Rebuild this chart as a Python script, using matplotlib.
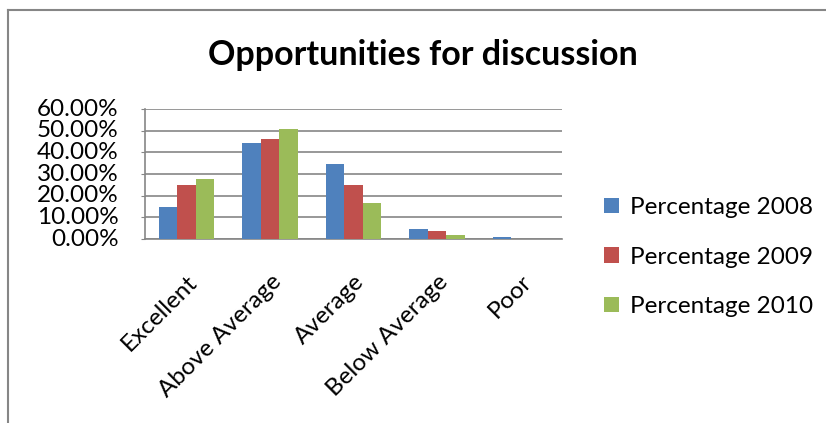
import numpy as np
import matplotlib
matplotlib.use('Agg')
import matplotlib.pyplot as plt
from matplotlib.lines import Line2D
from matplotlib.ticker import FuncFormatter

plt.rcParams['font.family'] = ['Lato', 'DejaVu Sans']

categories = ['Excellent', 'Above Average', 'Average', 'Below Average', 'Poor']
series_names = ['Percentage 2008', 'Percentage 2009', 'Percentage 2010']
pct_2008 = [14.9, 44.2, 34.7, 4.75, 0.9]
pct_2009 = [24.7, 46.3, 24.7, 3.5, 0.0]
pct_2010 = [27.9, 50.9, 16.4, 2.0, 0.0]
yticks = [0, 10, 20, 30, 40, 50, 60]

colors = ['#4F81BD', '#C0504D', '#9BBB59']
grid_col = '#868686'
fs = 17.5

fig = plt.figure(figsize=(8.26, 4.23), dpi=100)
ax = fig.add_axes([145/826, 1-239/423, 417/826, 130/423])

x = np.arange(len(categories))
w = 0.222
for i, (vals, name) in enumerate(zip([pct_2008, pct_2009, pct_2010], series_names)):
    ax.bar(x + (i-1)*w, vals, w, color=colors[i], label=name, zorder=3)

ax.set_xlim(-0.5, len(categories)-0.5)
ax.set_ylim(0, 60)
ax.set_yticks(yticks)
ax.yaxis.set_major_formatter(FuncFormatter(lambda v, p: f"{v:.2f}%"))
ax.grid(axis='y', color=grid_col, lw=1.2, zorder=0)
for s in ['top', 'right']:
    ax.spines[s].set_visible(False)
for s in ['left', 'bottom']:
    ax.spines[s].set_color(grid_col)
    ax.spines[s].set_linewidth(1.2)
ax.tick_params(axis='y', length=3, color=grid_col, labelsize=fs, pad=16)
ax.tick_params(axis='x', length=0, labelsize=fs, pad=23)
ax.set_xticks(x)
ax.set_xticklabels(categories, rotation=45, ha='right', va='top', rotation_mode='anchor')
for lab in ax.get_yticklabels():
    lab.set_verticalalignment('center')

fig.text(423/826, 1-55/423, 'Opportunities for discussion', fontsize=24.5, fontweight='bold',
         ha='center', va='center')

ax.legend(loc='center left', bbox_to_anchor=(604/826, 1-257/423), bbox_transform=fig.transFigure,
          frameon=False, fontsize=fs, handlelength=0.6, handleheight=0.6, handletextpad=0.45,
          labelspacing=1.18, borderaxespad=0, borderpad=0)

fig.add_artist(Line2D([8/826, 8/826], [0, 1-10/423], transform=fig.transFigure, color=grid_col, lw=1.5))
fig.add_artist(Line2D([8/826, 1], [1-10/423, 1-10/423], transform=fig.transFigure, color=grid_col, lw=1.5))

fig.savefig('out.png', dpi=100)
